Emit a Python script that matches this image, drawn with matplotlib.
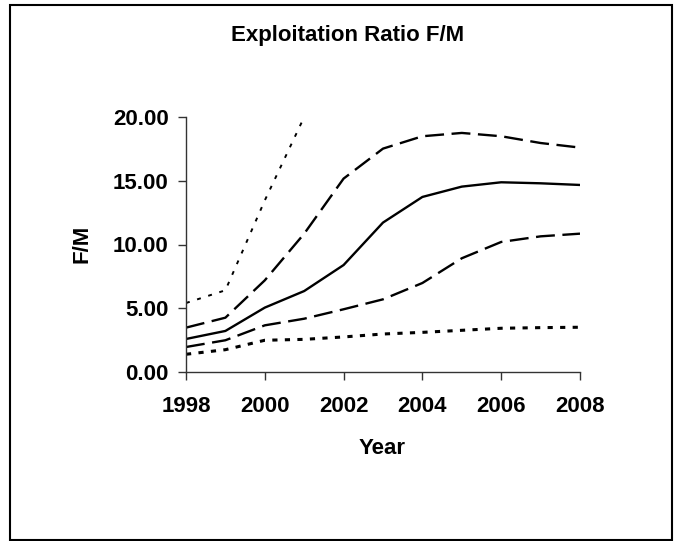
import matplotlib
matplotlib.use("Agg")
import matplotlib.pyplot as plt
from matplotlib.patches import Rectangle

years = [1998, 1999, 2000, 2001, 2002, 2003, 2004, 2005, 2006, 2007, 2008]
median = [2.59, 3.22, 5.05, 6.35, 8.39, 11.72, 13.73, 14.54, 14.88, 14.80, 14.67]
upper_dash = [3.48, 4.26, 7.19, 10.85, 15.17, 17.52, 18.49, 18.75, 18.49, 17.96, 17.60]
lower_dash = [1.96, 2.49, 3.66, 4.18, 4.92, 5.70, 6.98, 8.92, 10.20, 10.64, 10.85]
upper_dot_years = [1998, 1999, 2000, 2001]
upper_dot = [5.41, 6.41, 13.46, 20.0]
lower_dot = [1.39, 1.75, 2.49, 2.56, 2.75, 2.98, 3.11, 3.27, 3.43, 3.48, 3.51]
xticks = [1998, 2000, 2002, 2004, 2006, 2008]
yticks = [0, 5, 10, 15, 20]

plt.rcParams['font.family'] = ['Liberation Sans', 'DejaVu Sans']
plt.rcParams['font.weight'] = 'bold'
FS = 16

fig = plt.figure(figsize=(6.74, 5.41), dpi=100)
fig.patches.append(Rectangle((10/674, 1/541), 662/674, 535/541, transform=fig.transFigure,
                             fill=False, edgecolor='black', linewidth=1.5))

ax = fig.add_axes([186/674, 169/541, 394/674, 255/541])
ax.plot(years, median, color='black', linewidth=1.7)
ax.plot(years, upper_dash, color='black', linewidth=1.7, dashes=(8, 3.2))
ax.plot(years, lower_dash, color='black', linewidth=1.7, dashes=(8, 3.2))
ax.plot(upper_dot_years, upper_dot, color='black', linewidth=1.4, dashes=(2, 4))
ax.plot(years, lower_dot, color='black', linewidth=2.2, dashes=(1.7, 2.4))

ax.set_xlim(1998, 2008)
ax.set_ylim(0, 20)
ax.set_xticks(xticks)
ax.set_yticks(yticks)
ax.set_yticklabels([f"{v:.2f}" for v in yticks])
for s in ['top', 'right']:
    ax.spines[s].set_visible(False)
for s in ['left', 'bottom']:
    ax.spines[s].set_color('#333333')
    ax.spines[s].set_linewidth(1.0)
ax.tick_params(axis='both', direction='out', length=5.5, width=1.0, color='#333333',
               labelsize=FS)
ax.tick_params(axis='x', pad=12)
ax.tick_params(axis='y', pad=7)
for lab in ax.get_xticklabels() + ax.get_yticklabels():
    lab.set_fontweight('bold')

fig.text(348/674, 1 - 36/541, "Exploitation Ratio F/M", ha='center', va='center',
         fontsize=FS, fontweight='bold')
fig.text(82/674, 1 - 244/541, "F/M", ha='center', va='center', rotation=90,
         fontsize=FS, fontweight='bold')
fig.text(382/674, 1 - 448/541, "Year", ha='center', va='center',
         fontsize=FS, fontweight='bold')

fig.savefig("out.png", dpi=100)
